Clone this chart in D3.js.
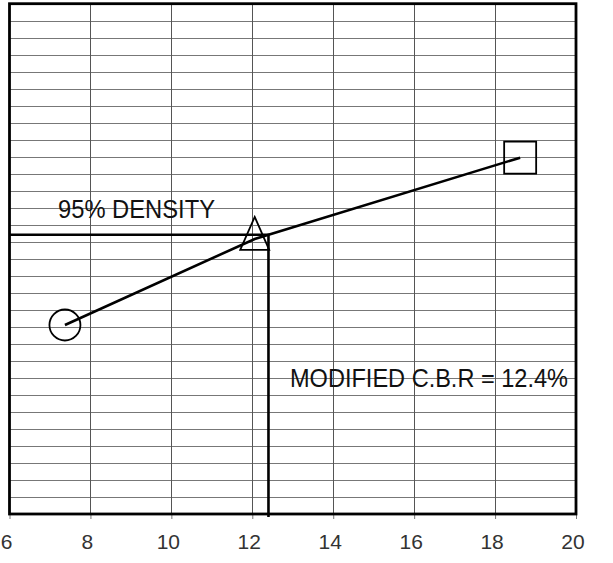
<!DOCTYPE html>
<html>
<head>
<meta charset="utf-8">
<script src="https://d3js.org/d3.v7.min.js"></script>
<style>
  body { margin: 0; background: #fff; }
  text { font-family: "Liberation Sans", Arial, sans-serif; }
</style>
</head>
<body>
<svg class="target" width="613" height="563"></svg>
<script>

// x = moisture / C.B.R axis, y = unlabeled density grid (0..30 units)
xTicks = [6, 8, 10, 12, 14, 16, 18, 20]
xGrid = [8, 10, 12, 14, 16, 18]

// the three test points: circle, triangle, square
pointX = [7.37, 12.06, 18.62]
pointY = [11.11, 16.17, 20.95]
pointShape = ['circle', 'triangle', 'square']

cbrValue = 12.4
densityLabel = '95% DENSITY'
cbrLabel = 'MODIFIED C.B.R = 12.4%'

margin = ({ top: 3.7, right: 37, bottom: 49, left: 9.5 })
width = 613
height = 563

const svg = d3.select('.target')

x = d3.scaleLinear()
    .domain([6, 20])
    .range([margin.left, width - margin.right])

y = d3.scaleLinear()
    .domain([0, 30])
    .range([height - margin.bottom, margin.top])

// horizontal grid lines, one per unit
svg.append('g')
  .selectAll('line')
  .data(d3.range(1, 30))
  .join('line')
    .attr('x1', x(6))
    .attr('x2', x(20))
    .attr('y1', d => Math.round(y(d)) + 0.5)
    .attr('y2', d => Math.round(y(d)) + 0.5)
    .attr('stroke', '#777')
    .attr('stroke-width', 1.2)

// vertical grid lines
svg.append('g')
  .selectAll('line')
  .data(xGrid)
  .join('line')
    .attr('x1', d => Math.round(x(d)) + 0.5)
    .attr('x2', d => Math.round(x(d)) + 0.5)
    .attr('y1', y(30))
    .attr('y2', y(0))
    .attr('stroke', '#555')
    .attr('stroke-width', 1)

// x axis, ticks hang below the frame
const xAxis = svg.append('g')
    .attr('transform', `translate(0,${ y(0) })`)
    .call(d3.axisBottom(x).tickValues(xTicks).tickSize(5).tickPadding(15))

xAxis.select('.domain').remove()
xAxis.selectAll('.tick line').attr('stroke', '#777')
xAxis.selectAll('.tick text')
    .attr('dx', -3.5)
    .attr('fill', '#333')
    .style('font-size', '21px')
    .style('font-family', '"Liberation Sans", Arial, sans-serif')

// frame
svg.append('rect')
    .attr('x', x(6))
    .attr('y', y(30))
    .attr('width', x(20) - x(6))
    .attr('height', y(0) - y(30))
    .attr('fill', 'none')
    .attr('stroke', '#000')
    .attr('stroke-width', 2.8)

// density at the chosen C.B.R
const seg = d3.bisectRight(pointX, cbrValue) - 1
const t = (cbrValue - pointX[seg]) / (pointX[seg + 1] - pointX[seg])
const densityAt = pointY[seg] + t * (pointY[seg + 1] - pointY[seg])

// annotation lines
svg.append('path')
    .attr('d', d3.line()([[x(6), y(densityAt)], [x(cbrValue), y(densityAt)], [x(cbrValue), y(0) + 3]]))
    .attr('fill', 'none')
    .attr('stroke', '#000')
    .attr('stroke-width', 2.6)

// fitted line through the points
const pts = pointX.map((d, i) => [x(d), y(pointY[i])])

svg.append('path')
    .attr('d', d3.line()(pts))
    .attr('fill', 'none')
    .attr('stroke', '#000')
    .attr('stroke-width', 2.6)

// markers
const marker = svg.append('g')
  .selectAll('path')
  .data(pts)
  .join('path')
    .attr('transform', d => `translate(${ d[0] },${ d[1] })`)
    .attr('fill', 'none')
    .attr('stroke', '#000')
    .attr('stroke-width', 1.8)
    .attr('d', (d, i) => {
      const s = pointShape[i]
      if (s === 'circle') return d3.arc()({ innerRadius: 0, outerRadius: 15.5, startAngle: 0, endAngle: 2 * Math.PI })
      if (s === 'square') return 'M-16,-16H16V16H-16Z'
      return 'M0,-22L14.5,11L-14.5,11Z'
    })

// labels
svg.append('text')
    .attr('x', 58)
    .attr('y', 218)
    .attr('textLength', 157)
    .attr('lengthAdjust', 'spacingAndGlyphs')
    .style('font-size', '25.5px')
    .attr('fill', '#111')
    .text(densityLabel)

svg.append('text')
    .attr('x', 290)
    .attr('y', 387)
    .attr('textLength', 278)
    .attr('lengthAdjust', 'spacingAndGlyphs')
    .style('font-size', '26px')
    .attr('fill', '#111')
    .text(cbrLabel)

</script>
</body>
</html>
